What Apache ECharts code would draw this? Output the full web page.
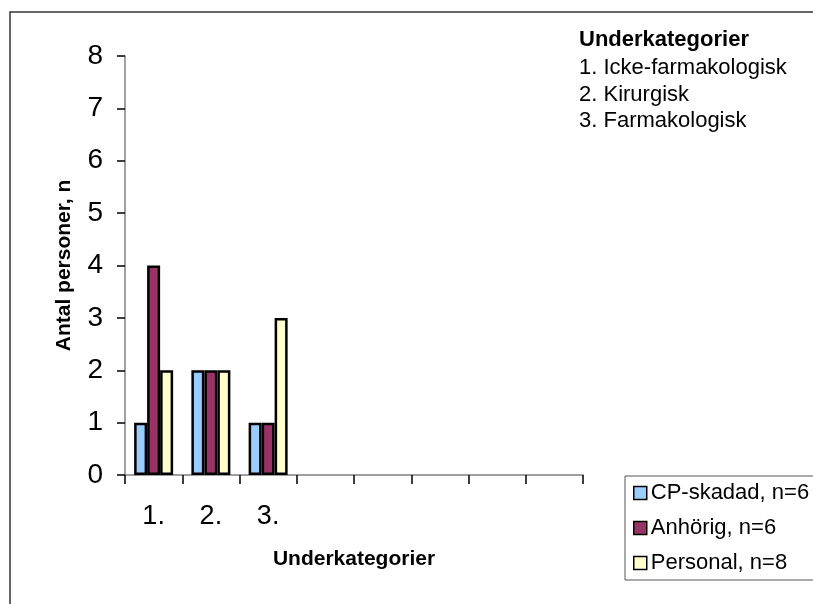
<!DOCTYPE html>
<html>
<head>
<meta charset="utf-8">
<script src="https://cdn.jsdelivr.net/npm/echarts@6/dist/echarts.min.js"></script>
<style>
  html, body { margin: 0; padding: 0; background: #fff; }
  #chart { width: 813px; height: 604px; }
</style>
</head>
<body>
<div id="chart"></div>
<script>
// kategorier (8 platser på x-axeln, bara 3 används)
const categories = ['1.', '2.', '3.', '', '', '', '', ''];
const cpSkadad = [1, 2, 1];
const anhorig = [4, 2, 1];
const personal = [2, 2, 3];
const seriesNames = ['CP-skadad, n=6', 'Anhörig, n=6', 'Personal, n=8'];
const yTicks = { min: 0, max: 8, interval: 1 };
const infoTitle = 'Underkategorier';
const infoLines = ['1. Icke-farmakologisk', '2. Kirurgisk', '3. Farmakologisk'];

const font = 'Liberation Sans, Arial, sans-serif';
const chart = echarts.init(document.getElementById('chart'));

const barStyle = (color) => ({ color: color, borderColor: '#000', borderWidth: 2.5 });

chart.setOption({
  animation: false,
  textStyle: { fontFamily: font },
  title: {
    text: infoTitle,
    subtext: infoLines.join('\n'),
    left: 579,
    top: 29,
    padding: 0,
    itemGap: 4,
    textStyle: { fontSize: 22, fontWeight: 'bold', color: '#000', fontFamily: font, lineHeight: 22 },
    subtextStyle: { fontSize: 22, color: '#000', fontFamily: font, lineHeight: 26.5 }
  },
  legend: {
    orient: 'vertical',
    left: 625,
    top: 476,
    padding: [6, 10, 6, 8],
    itemGap: 13,
    itemWidth: 13,
    itemHeight: 13,
    icon: 'rect',
    borderColor: '#555',
    borderWidth: 1,
    textStyle: { fontSize: 22, color: '#000', fontFamily: font, padding: [0, 0, 0, -1] },
    itemStyle: { borderColor: '#000', borderWidth: 1.5 },
    data: seriesNames
  },
  graphic: [{
    type: 'rect',
    shape: { x: 10, y: 12, width: 900, height: 700 },
    style: { fill: 'none', stroke: '#333', lineWidth: 1.5 },
    silent: true
  }],
  grid: { left: 125, top: 56, width: 458, height: 419 },
  xAxis: {
    type: 'category',
    data: categories,
    name: 'Underkategorier',
    nameLocation: 'middle',
    nameGap: 74,
    nameTextStyle: { fontSize: 21, fontWeight: 'bold', color: '#000', fontFamily: font },
    axisLine: { lineStyle: { color: '#808080', width: 1.5 } },
    axisTick: { show: true, length: 9, lineStyle: { color: '#000', width: 1.5 } },
    axisLabel: { fontSize: 27, color: '#000', margin: 28, fontFamily: font },
    splitLine: { show: false }
  },
  yAxis: {
    type: 'value',
    min: yTicks.min,
    max: yTicks.max,
    interval: yTicks.interval,
    name: 'Antal personer, n',
    nameLocation: 'middle',
    nameRotate: 90,
    nameGap: 50,
    nameTextStyle: { fontSize: 21, fontWeight: 'bold', color: '#000', fontFamily: font },
    axisLine: { show: true, lineStyle: { color: '#808080', width: 1.5 } },
    axisTick: { show: true, length: 8, lineStyle: { color: '#000', width: 1.5 } },
    axisLabel: { fontSize: 28, color: '#000', margin: 22, fontFamily: font },
    splitLine: { show: false }
  },
  series: [
    { name: seriesNames[0], type: 'bar', data: cpSkadad, barWidth: 13, barGap: '0%', itemStyle: barStyle('#99CCFF') },
    { name: seriesNames[1], type: 'bar', data: anhorig, barWidth: 13, barGap: '0%', itemStyle: barStyle('#993366') },
    { name: seriesNames[2], type: 'bar', data: personal, barWidth: 13, barGap: '0%', itemStyle: barStyle('#FFFFCC') }
  ]
});
</script>
</body>
</html>
